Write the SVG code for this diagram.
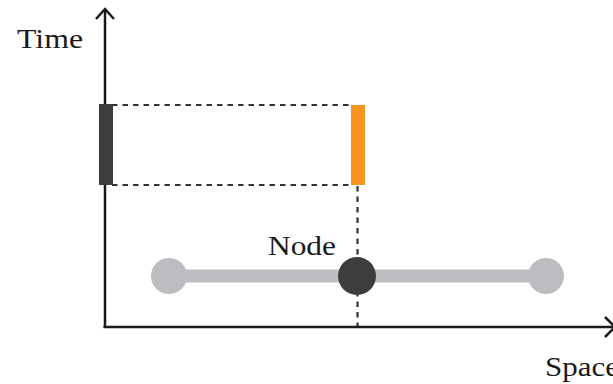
<svg xmlns="http://www.w3.org/2000/svg" width="613" height="384" viewBox="0 0 613 384">
<style>
.axis{stroke:#1a1a1a;stroke-width:2.5;fill:none}
.dash{stroke:#333;stroke-width:2.2;stroke-dasharray:5.5 5;fill:none}
.lbl{font-family:"Liberation Serif",serif;font-size:28px;fill:#1a1a1a}
</style>
<rect width="613" height="384" fill="#fff"/>
<g id="connectors">
<line class="dash" x1="112" y1="105" x2="351" y2="105"/>
<line class="dash" x1="112" y1="185" x2="351" y2="185"/>
<line class="dash" x1="357.5" y1="186" x2="357.5" y2="327"/>
<line x1="170" y1="276" x2="546" y2="276" stroke="#bcbdc0" stroke-width="13"/>
</g>
<g id="axes">
<line class="axis" x1="105" y1="9" x2="105" y2="328"/>
<polyline class="axis" points="96,19 105,9 114,19"/>
<line class="axis" x1="103.5" y1="327" x2="614" y2="327"/>
<polyline class="axis" points="605,317 615,327 605,337"/>
<text class="lbl" x="17" y="48" textLength="66" lengthAdjust="spacingAndGlyphs">Time</text>
<text class="lbl" x="545" y="376" textLength="74" lengthAdjust="spacingAndGlyphs">Space</text>
</g>
<g id="bar-dark"><rect x="99" y="104" width="14" height="81" fill="#3d3d3d"/></g>
<g id="bar-orange"><rect x="351" y="105" width="14" height="80" fill="#f7941d"/></g>
<g id="node-left"><circle cx="169" cy="276" r="18" fill="#bcbdc0"/></g>
<g id="node-right"><circle cx="546" cy="276" r="18" fill="#bcbdc0"/></g>
<g id="node-center"><circle cx="357" cy="276" r="19" fill="#3d3d3d"/><text class="lbl" x="268" y="255" textLength="68" lengthAdjust="spacingAndGlyphs">Node</text></g>
</svg>
